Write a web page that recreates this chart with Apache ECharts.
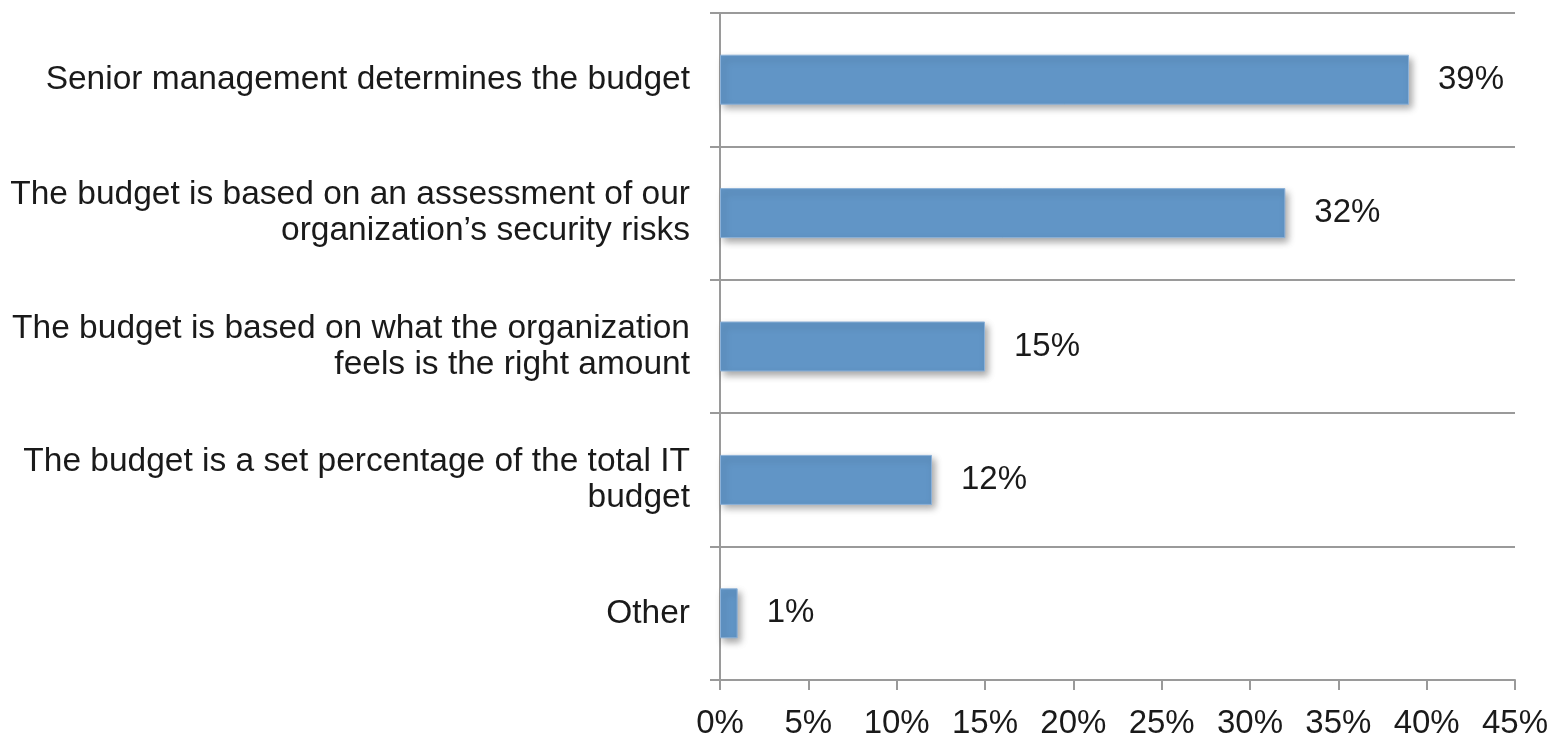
<!DOCTYPE html>
<html>
<head>
<meta charset="utf-8">
<script src="https://cdn.jsdelivr.net/npm/echarts@6/dist/echarts.min.js"></script>
<style>
  html, body { margin: 0; padding: 0; background: #fff; }
  #chart { width: 1555px; height: 740px; }
</style>
</head>
<body>
<div id="chart"></div>
<script>
// How the security budget is determined (share of respondents, %)
const categories = [
  'Senior management determines the budget',
  'The budget is based on an assessment of our\norganization\u2019s security risks',
  'The budget is based on what the organization\nfeels is the right amount',
  'The budget is a set percentage of the total IT\nbudget',
  'Other'
];
const shares = [39, 32, 15, 12, 1];
const tickLabels = ['0%', '5%', '10%', '15%', '20%', '25%', '30%', '35%', '40%', '45%'];

const FONT = '"Liberation Sans", Arial, Helvetica, sans-serif';
const TEXT = '#1a1a1a';
const AXIS = '#9a9a9a';

const chart = echarts.init(document.getElementById('chart'), null, { renderer: 'canvas' });
chart.setOption({
  animation: false,
  backgroundColor: '#ffffff',
  grid: { left: 720, right: 40, top: 13, bottom: 56, containLabel: false },
  xAxis: {
    type: 'value',
    min: 0,
    max: 45,
    interval: 5,
    axisLine: { show: true, lineStyle: { color: AXIS, width: 2 } },
    axisTick: { show: true, length: 10, lineStyle: { color: AXIS, width: 2 } },
    splitLine: { show: false },
    axisLabel: {
      margin: 27,
      fontFamily: FONT,
      fontSize: 33,
      color: TEXT,
      formatter: (v) => tickLabels[Math.round(v / 5)]
    }
  },
  yAxis: {
    type: 'category',
    data: categories,
    inverse: true,
    axisLine: { show: true, lineStyle: { color: AXIS, width: 2 } },
    axisTick: { show: true, length: 10, lineStyle: { color: AXIS, width: 2 } },
    splitLine: { show: true, lineStyle: { color: AXIS, width: 2 } },
    axisLabel: {
      margin: 30,
      fontFamily: FONT,
      fontSize: 33.5,
      lineHeight: 36,
      color: TEXT,
      align: 'right'
    }
  },
  series: [{
    type: 'bar',
    data: shares,
    barWidth: 50,
    itemStyle: {
      color: '#6195c6',
      borderColor: '#8cb1d8',
      borderWidth: 1,
      shadowColor: 'rgba(0,0,0,0.35)',
      shadowBlur: 7,
      shadowOffsetX: 3,
      shadowOffsetY: 4
    },
    label: {
      show: true,
      position: 'right',
      distance: 29,
      fontFamily: FONT,
      fontSize: 33,
      color: TEXT,
      formatter: (p) => p.value + '%'
    }
  }]
});
</script>
</body>
</html>
